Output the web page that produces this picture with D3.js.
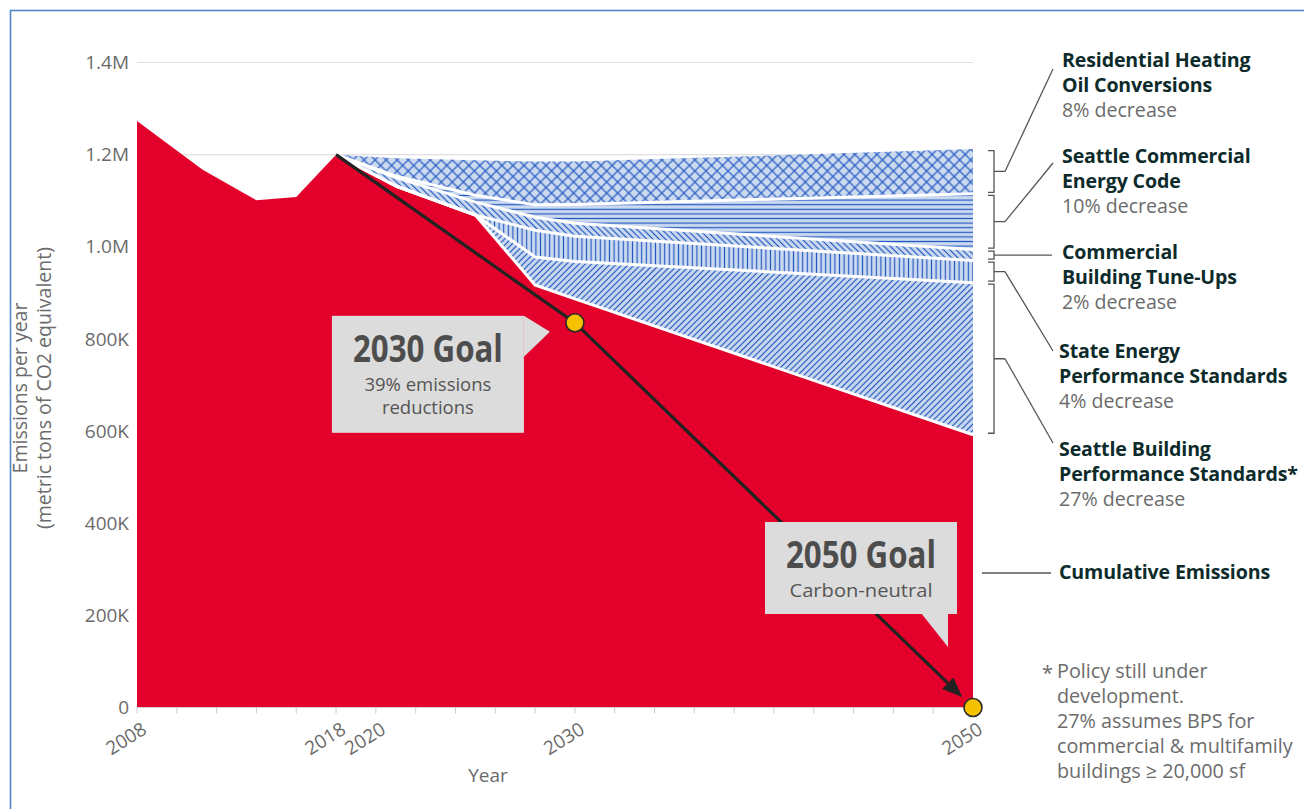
<!DOCTYPE html>
<html>
<head>
<meta charset="utf-8">
<script src="https://cdn.jsdelivr.net/npm/d3@7"></script>
<style>
  body { margin: 0; background: #fff; }
  svg text { font-family: "Open Sans", "Noto Sans", sans-serif; }
</style>
</head>
<body>
<div id="chart"></div>
<script>
// Historic emissions (metric tons CO2e)
const histYears = [2008, 2011.3, 2014, 2016, 2018];
const histEmissions = [1273000, 1167000, 1101000, 1108000, 1200000];

// Projection years and the stacked wedges (bottom -> top)
const projYears = [2018, 2021, 2025, 2028, 2030, 2050];
const cumulative = [1200000, 1132000, 1069000, 917000, 887000, 592000];
const seattleBPS = [0, 0, 0, 61000, 81000, 330000];
const stateEPS = [0, 0, 0, 58000, 55000, 48000];
const tuneUps = [0, 18000, 28000, 28000, 28000, 24000];
const energyCode = [0, 4000, 15000, 27000, 41000, 121000];
const heatingOil = [0, 38000, 76000, 94000, 93000, 97000];

// Goal path
const goalYears = [2018, 2030, 2050];
const goalValues = [1200000, 835000, 0];

// Labels
const yTicks = [0, 200000, 400000, 600000, 800000, 1000000, 1200000, 1400000];
const xTickLabels = [2008, 2018, 2020, 2030, 2050];
const policyNames = [
  ["Residential Heating", "Oil Conversions"],
  ["Seattle Commercial", "Energy Code"],
  ["Commercial", "Building Tune-Ups"],
  ["State Energy", "Performance Standards"],
  ["Seattle Building", "Performance Standards*"],
];
const policyPct = [8, 10, 2, 4, 27];
const footnote = ["Policy still under", "development.", "27% assumes BPS for", "commercial & multifamily", "buildings \u2265 20,000 sf"];

// Chart geometry
const W = 1304, H = 809;
const x = d3.scaleLinear().domain([2008, 2050]).range([137, 973]);
const y = d3.scaleLinear().domain([0, 1400000]).range([707.5, 62.5]);

const red = "#e3002b";
const hatchBg = "#ccdaf0";
const hatchLine = "#2258c2";
const textDark = "#0d2b2b";
const textGray = "#6b6b6b";

const svg = d3.select("#chart").append("svg").attr("width", W).attr("height", H);

// Patterns
const defs = svg.append("defs");
function makePattern(id, size, angle, drawFn) {
  const p = defs.append("pattern")
    .attr("id", id)
    .attr("patternUnits", "userSpaceOnUse")
    .attr("width", size).attr("height", size)
    .attr("patternTransform", `rotate(${angle})`);
  p.append("rect").attr("width", size).attr("height", size).attr("fill", hatchBg);
  drawFn(p, size);
}
const vLine = (p, s) => p.append("line").attr("x1", s / 2).attr("x2", s / 2).attr("y1", 0).attr("y2", s)
  .attr("stroke", hatchLine).attr("stroke-width", 1.2);
const hLine = (p, s) => p.append("line").attr("y1", s / 2).attr("y2", s / 2).attr("x1", 0).attr("x2", s)
  .attr("stroke", hatchLine).attr("stroke-width", 1.2);

makePattern("p-oil", 7.8, 45, (p, s) => { vLine(p, s); hLine(p, s); });
makePattern("p-code", 4.6, 0, hLine);
makePattern("p-tune", 4.4, -45, vLine);
makePattern("p-state", 4.6, 0, vLine);
makePattern("p-bps", 4.4, 45, vLine);

const layerKeys = ["cumulative", "seattleBPS", "stateEPS", "tuneUps", "energyCode", "heatingOil"];
const layerFill = ["url(#p-bps)", "url(#p-state)", "url(#p-tune)", "url(#p-code)", "url(#p-oil)"];
const projRows = projYears.map((yr, i) => ({
  year: yr,
  cumulative: cumulative[i],
  seattleBPS: seattleBPS[i],
  stateEPS: stateEPS[i],
  tuneUps: tuneUps[i],
  energyCode: energyCode[i],
  heatingOil: heatingOil[i],
}));
const stacked = d3.stack().keys(layerKeys)(projRows);

// Gridlines
svg.append("g").selectAll("line").data(yTicks.slice(1)).join("line")
  .attr("x1", x(2008)).attr("x2", x(2050))
  .attr("y1", (d) => y(d)).attr("y2", (d) => y(d))
  .attr("stroke", "#e0e0e0").attr("stroke-width", 1.2);

// Red emissions area: history + projected remainder
const redPts = histYears.map((yr, i) => [yr, histEmissions[i]])
  .concat(projYears.slice(1).map((yr, i) => [yr, cumulative[i + 1]]));
svg.append("path")
  .datum(redPts)
  .attr("fill", red)
  .attr("d", d3.area().x((d) => x(d[0])).y0(y(0)).y1((d) => y(d[1])));

// Hatched policy wedges
const areaGen = d3.area().x((d) => x(d.data.year)).y0((d) => y(d[0])).y1((d) => y(d[1]));
svg.append("g").selectAll("path").data(stacked.slice(1)).join("path")
  .attr("fill", (d, i) => layerFill[i])
  .attr("d", areaGen);

// White separators between wedges
const lineGen = d3.line().x((d) => x(d.data.year)).y((d) => y(d[1]));
svg.append("g").selectAll("path").data(stacked.slice(0, 5)).join("path")
  .attr("fill", "none").attr("stroke", "#fff").attr("stroke-width", 3)
  .attr("stroke-linejoin", "round")
  .attr("d", lineGen);

// X axis
const xAxis = svg.append("g");
xAxis.append("line").attr("x1", x(2008)).attr("x2", x(2050)).attr("y1", y(0)).attr("y2", y(0))
  .attr("stroke", "#ccc").attr("stroke-width", 1.2);
xAxis.selectAll("line.tick").data(d3.range(2008, 2051, 2)).join("line")
  .attr("class", "tick")
  .attr("x1", (d) => x(d)).attr("x2", (d) => x(d))
  .attr("y1", y(0)).attr("y2", y(0) + 6)
  .attr("stroke", "#ccc");
xAxis.selectAll("text").data(xTickLabels).join("text")
  .attr("transform", (d) => `translate(${x(d) + 4},${y(0) + 14}) rotate(-32)`)
  .attr("text-anchor", "end")
  .attr("dy", "0.7em")
  .attr("font-size", 19)
  .attr("fill", textGray)
  .text((d) => d);
svg.append("text").attr("x", 488).attr("y", 782).attr("text-anchor", "middle")
  .attr("font-size", 19).attr("fill", textGray).text("Year");

// Y axis labels
const fmt = (v) => (v === 0 ? "0" : v >= 1000000 ? (v / 1000000).toFixed(1) + "M" : v / 1000 + "K");
svg.append("g").selectAll("text").data(yTicks).join("text")
  .attr("x", 129).attr("y", (d) => y(d)).attr("dy", "0.35em")
  .attr("text-anchor", "end").attr("font-size", 19).attr("fill", textGray)
  .text(fmt);
const yTitle = svg.append("text")
  .attr("transform", "translate(0,388) rotate(-90)")
  .attr("text-anchor", "middle").attr("font-size", 19.5).attr("fill", textGray);
yTitle.append("tspan").attr("x", 0).attr("y", 27).text("Emissions per year");
yTitle.append("tspan").attr("x", 0).attr("y", 51).text("(metric tons of CO2 equivalent)");

// Goal arrow: 2018 -> 2030 goal -> 2050 goal
const goalPts = goalYears.map((yr, i) => [x(yr), y(goalValues[i])]);
const last = goalPts[goalPts.length - 1];
const prev = goalPts[goalPts.length - 2];
const len = Math.hypot(last[0] - prev[0], last[1] - prev[1]);
const ux = (last[0] - prev[0]) / len, uy = (last[1] - prev[1]) / len;
const tip = [last[0] - 15 * ux, last[1] - 15 * uy];
const base = [tip[0] - 20 * ux, tip[1] - 20 * uy];
svg.append("path")
  .attr("d", d3.line()([goalPts[0], goalPts[1], base]))
  .attr("fill", "none").attr("stroke", "#222").attr("stroke-width", 3.2);
svg.append("path")
  .attr("d", d3.line()([tip, [base[0] - 8 * uy, base[1] + 8 * ux], [base[0] + 8 * uy, base[1] - 8 * ux]]) + "Z")
  .attr("fill", "#222");

// Callout boxes
function callout(bx, by, bw, bh, tail, title, subLines, subLen) {
  const g = svg.append("g");
  g.append("path").attr("d", d3.line()(tail) + "Z").attr("fill", "#dcdcdc");
  g.append("rect").attr("x", bx).attr("y", by).attr("width", bw).attr("height", bh).attr("fill", "#dcdcdc");
  g.append("text").attr("x", bx + bw / 2).attr("y", by + 46).attr("text-anchor", "middle")
    .attr("font-size", 38).attr("font-weight", 700).attr("fill", "#4d4d4d")
    .attr("textLength", 150).attr("lengthAdjust", "spacingAndGlyphs").text(title);
  subLines.forEach((s, i) => {
    const t = g.append("text").attr("x", bx + bw / 2).attr("y", by + 75 + i * 23).attr("text-anchor", "middle")
      .attr("font-size", 18.5).attr("fill", "#555").text(s);
    if (subLen) t.attr("textLength", subLen).attr("lengthAdjust", "spacingAndGlyphs");
  });
}
const g30 = goalPts[1];
callout(g30[0] - 243, g30[1] - 7, 192, 117,
  [[g30[0] - 51, g30[1] - 7], [g30[0] - 25, g30[1] + 9], [g30[0] - 51, g30[1] + 34]],
  "2030 Goal", ["39% emissions", "reductions"]);
callout(765, 522, 192, 92,
  [[921, 613], [948, 613], [948, 647]],
  "2050 Goal", ["Carbon-neutral"], 143);

// Goal markers
svg.append("g").selectAll("circle").data(goalPts.slice(1)).join("circle")
  .attr("cx", (d) => d[0]).attr("cy", (d) => d[1]).attr("r", 9)
  .attr("fill", "#f6c200").attr("stroke", "#2a2a2a").attr("stroke-width", 1.6);

// Right-side brackets and labels
const last2050 = stacked.map((s) => s[s.length - 1]);
const bx = 994;
const labelY = [67, 163, 259, 358, 456];
const leaderEnd = [69, 163, null, 351, 443];
const ann = svg.append("g").attr("stroke", "#555").attr("stroke-width", 1.3).attr("fill", "none");
for (let k = 5; k >= 1; k--) {
  const i = 5 - k; // label index, top layer first
  const top = y(last2050[k][1]) + 1.5;
  const bot = y(last2050[k][0]) - 1.5;
  const mid = (top + bot) / 2;
  ann.append("path").attr("d", `M${bx - 6},${top}H${bx}V${bot}H${bx - 6}M${bx},${mid}H${bx + 11}`);
  if (leaderEnd[i] === null) {
    ann.append("path").attr("d", `M${bx + 11},${mid}H1052`);
  } else {
    ann.append("path").attr("d", `M${bx + 11},${mid}L1053,${leaderEnd[i]}`);
  }
  const lx = i < 3 ? 1062 : 1059;
  policyNames[i].forEach((s, j) => {
    svg.append("text").attr("x", lx).attr("y", labelY[i] + j * 25)
      .attr("font-size", 19.6).attr("font-weight", 700).attr("letter-spacing", -0.15)
      .attr("fill", textDark).text(s);
  });
  svg.append("text").attr("x", lx).attr("y", labelY[i] + 50)
    .attr("font-size", 19.6).attr("fill", textGray).text(`${policyPct[i]}% decrease`);
}
ann.append("path").attr("d", "M982,573H1051");
svg.append("text").attr("x", 1059).attr("y", 579)
  .attr("font-size", 19.6).attr("font-weight", 700).attr("letter-spacing", -0.15)
  .attr("fill", textDark).text("Cumulative Emissions");

// Footnote
svg.append("text").attr("x", 1042).attr("y", 680).attr("font-size", 20).attr("fill", textGray).text("*");
footnote.forEach((s, i) => {
  svg.append("text").attr("x", 1057).attr("y", 678 + i * 25)
    .attr("font-size", 19.8).attr("fill", textGray).text(s);
});

// Frame
svg.append("rect").attr("x", 10.5).attr("y", 10.5).attr("width", 1310).attr("height", 820)
  .attr("fill", "none").attr("stroke", "#4f88c8").attr("stroke-width", 1.6);
</script>
</body>
</html>
